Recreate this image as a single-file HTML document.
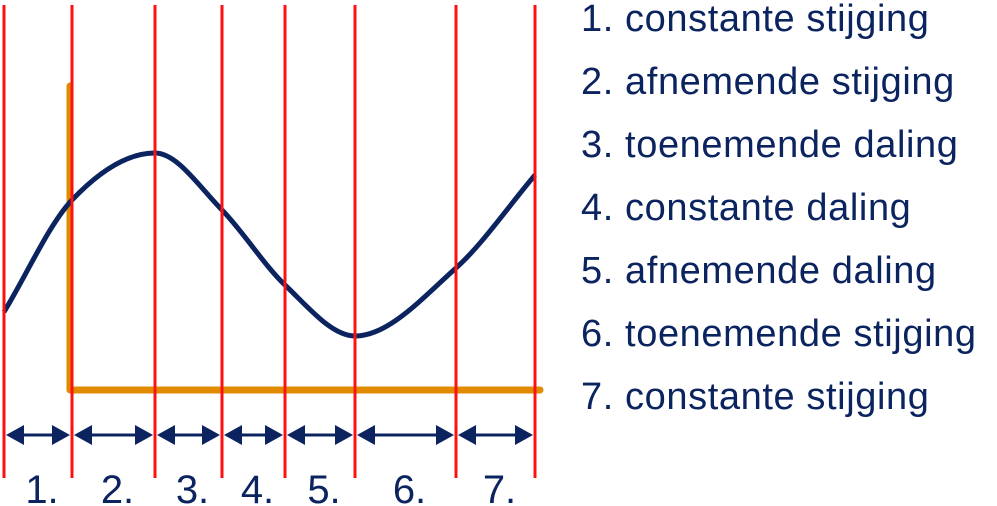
<!DOCTYPE html>
<html><head><meta charset="utf-8"><style>
body{margin:0;width:997px;height:506px;background:#fff;overflow:hidden}
svg{display:block}
text{font-family:"Liberation Sans",sans-serif;fill:#0b2460}
</style></head><body>
<svg width="997" height="506">
<g id="curve-g"></g>
<g id="grid"></g>
<g id="legend"></g>
</svg>
<script>
const boundaries=[4,72,155,222,285,355,456,535];
const segLabels=["1.","2.","3.","4.","5.","6.","7."];
const legendItems=["1. constante stijging","2. afnemende stijging","3. toenemende daling","4. constante daling","5. afnemende daling","6. toenemende stijging","7. constante stijging"];
const curveX=[4,72,155,222,285,355,456,535];
const curveY=[312,200,153,210,285,336,268,175];
const NS="http://www.w3.org/2000/svg";
function mk(t,a,p){const e=document.createElementNS(NS,t);for(const k in a)e.setAttribute(k,a[k]);p.appendChild(e);return e;}
const cg=document.getElementById('curve-g'),gg=document.getElementById('grid'),lg=document.getElementById('legend');
let ax=mk('path',{d:'M70,86 L70,390 L540,390',fill:'none',stroke:'#e08a00','stroke-width':7,'stroke-linejoin':'round','stroke-linecap':'round'},cg);

let d='M'+curveX[0]+','+curveY[0];
for(let i=0;i<curveX.length-1;i++){
 const x0=curveX[Math.max(0,i-1)],y0=curveY[Math.max(0,i-1)],x1=curveX[i],y1=curveY[i],x2=curveX[i+1],y2=curveY[i+1],x3=curveX[Math.min(curveX.length-1,i+2)],y3=curveY[Math.min(curveX.length-1,i+2)];
 let s1=(i==2||i==5)?0:(y2-y0)/(x2-x0), s2=(i+1==2||i+1==5)?0:(y3-y1)/(x3-x1);
 const h=(x2-x1)/3;
 d+=` C${x1+h},${y1+s1*h} ${x2-h},${y2-s2*h} ${x2},${y2}`;
}
let c=mk('path',{d:d,fill:'none',stroke:'#0b2460','stroke-width':5},cg);

boundaries.forEach((x,i)=>{
 let l=mk('line',{x1:x,x2:x,y1:5,y2:478,stroke:'#ff1010','stroke-width':3},gg);
 
});
for(let i=0;i<segLabels.length;i++){
 const a=boundaries[i],b=boundaries[i+1],y=435;
 let g=mk('g',{},gg);
 
 mk('line',{x1:a+10,x2:b-10,y1:y,y2:y,stroke:'#0b2460','stroke-width':3},g);
 mk('polygon',{points:`${a+2},${y} ${a+20},${y-10} ${a+20},${y+10}`,fill:'#0b2460'},g);
 mk('polygon',{points:`${b-2},${y} ${b-20},${y-10} ${b-20},${y+10}`,fill:'#0b2460'},g);
 let t=mk('text',{x:(a+b)/2+4,y:503,'font-size':40,'text-anchor':'middle'},gg);
 t.textContent=segLabels[i];
 
}
legendItems.forEach((s,i)=>{
 let t=mk('text',{x:581,y:31+i*63,'font-size':38,'letter-spacing':'0.6'},lg);
 t.textContent=s;
 
});
</script>
</body></html>
